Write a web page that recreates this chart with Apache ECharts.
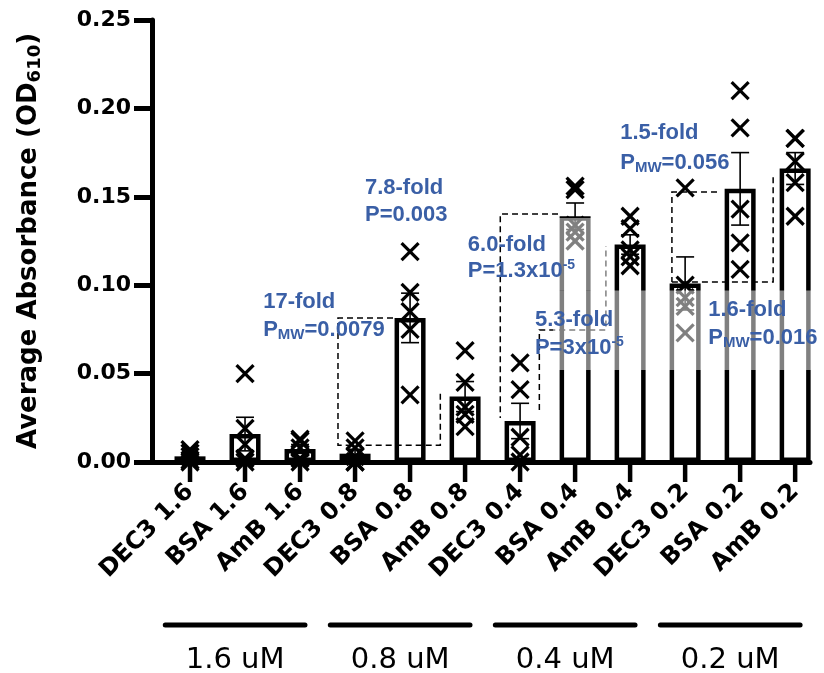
<!DOCTYPE html>
<html><head><meta charset="utf-8">
<script src="https://cdn.jsdelivr.net/npm/echarts@6/dist/echarts.min.js"></script>
<style>html,body{margin:0;padding:0;background:#fff}#c{width:824px;height:673px}</style>
</head><body><div id="c"></div>
<script>
// ---- data ----
const categories = ['DEC3 1.6','BSA 1.6','AmB 1.6','DEC3 0.8','BSA 0.8','AmB 0.8','DEC3 0.4','BSA 0.4','AmB 0.4','DEC3 0.2','BSA 0.2','AmB 0.2'];
const means = [0.0032,0.0158,0.0074,0.0047,0.0815,0.037,0.0232,0.139,0.123,0.101,0.1545,0.166];
const sems  = [0.0013,0.0095,0.0025,0.0025,0.014,0.0085,0.010,0.0075,0.0055,0.015,0.0205,0.009];
const replicates = [
  [0.007,0.005,0.003,0.001,0.0],
  [0.050,0.019,0.010,0.002,0.0],
  [0.013,0.012,0.008,0.002,0.0],
  [0.012,0.008,0.003,0.0,0.0],
  [0.119,0.096,0.085,0.075,0.038],
  [0.063,0.045,0.031,0.027,0.020],
  [0.056,0.041,0.014,0.004,0.0],
  [0.156,0.154,0.134,0.130,0.125],
  [0.139,0.132,0.120,0.116,0.111],
  [0.155,0.100,0.093,0.088,0.073],
  [0.210,0.189,0.143,0.124,0.109],
  [0.183,0.183,0.170,0.158,0.139]
];
const yTicks = [0, 0.05, 0.10, 0.15, 0.20, 0.25];
const groupLabels = ['1.6 uM','0.8 uM','0.4 uM','0.2 uM'];
const foldLabels = ['17-fold','7.8-fold','6.0-fold','5.3-fold','1.5-fold','1.6-fold'];
const pLabels = ['{a|P}{s|MW}{a|=0.0079}','{a|P=0.003}','{a|P=1.3x10}{p|-5}','{a|P=3x10}{p|-5}','{a|P}{s|MW}{a|=0.056}','{a|P}{s|MW}{a|=0.016}'];

// ---- layout (annotation anchors in axis units) ----
const annoPos = [[1.33,0.0905,0.0747],[3.18,0.155,0.140],[5.05,0.1227,0.108],[6.27,0.0803,0.0645],[7.82,0.186,0.169],[9.42,0.086,0.070]];
const brackets = [
  [[3.69,0.0815],[2.69,0.0815],[2.69,0.0095],[4.55,0.0095],[4.55,0.039]],
  [[6.69,0.1403],[5.64,0.1403],[5.64,0.0249]],
  [[6.35,0.0294],[6.35,0.0747],[7.56,0.0747],[7.56,0.1222]],
  [[9.58,0.1527],[8.76,0.1527],[8.76,0.1018]],
  [[8.76,0.1018],[10.6,0.1018],[10.6,0.1623]]
];
const veils = [[[6.6,0.097],[11.3,0.052]],[[6.6,0.138],[7.6,0.097]]];

const BLUE = '#3A5FA6';
const idx = categories.map((c,i)=>i);
const chart = echarts.init(document.getElementById('c'));

const option = {
  animation:false,
  backgroundColor:'#fff',
  grid:{left:152, right:14, top:20, bottom:211, containLabel:false},
  xAxis:{
    type:'value', min:-0.691, max:11.27,
    axisLine:{show:true, onZero:false, lineStyle:{color:'#000', width:5}},
    axisTick:{show:false},
    axisLabel:{show:true, customValues:idx, formatter:v=>categories[Math.round(v)]||'', rotate:45, margin:26,
      color:'#000', fontFamily:'DejaVu Sans', fontWeight:'bold', fontSize:24},
    splitLine:{show:false}
  },
  yAxis:{
    type:'value', min:0, max:0.25, interval:0.05,
    axisLine:{show:true, onZero:false, lineStyle:{color:'#000', width:5}},
    axisTick:{show:true, length:18, lineStyle:{color:'#000', width:5}},
    axisLabel:{color:'#000', fontFamily:'DejaVu Sans', fontWeight:'bold', fontSize:22, margin:21,
      formatter:v=>v.toFixed(2)},
    splitLine:{show:false},
    name:'{t|Average Absorbance (OD}{s|610}{t|)}',
    nameLocation:'middle', nameRotate:90, nameGap:108,
    nameTextStyle:{rich:{
      t:{fontFamily:'DejaVu Sans', fontWeight:'bold', fontSize:26, color:'#000'},
      s:{fontFamily:'DejaVu Sans', fontWeight:'bold', fontSize:18, color:'#000', padding:[11,0,0,0]}
    }}
  },
  series:[
    {type:'bar', barWidth:31, data:means.map((m,i)=>[i,m]),
     itemStyle:{color:'#fff', borderColor:'#000', borderWidth:4.5}, z:2},
    {type:'custom', z:3, data:means.map((m,i)=>[i,m,sems[i]]),
     renderItem:(params,api)=>{
       const x=api.value(0), m=api.value(1), s=api.value(2);
       const top=api.coord([x,m+s]), bot=api.coord([x,Math.max(0,m-s)]);
       const st={stroke:'#000', lineWidth:1.6};
       return {type:'group', children:[
         {type:'line', shape:{x1:top[0],y1:top[1],x2:bot[0],y2:bot[1]}, style:st},
         {type:'line', shape:{x1:top[0]-9,y1:top[1],x2:top[0]+9,y2:top[1]}, style:st},
         {type:'line', shape:{x1:bot[0]-9,y1:bot[1],x2:bot[0]+9,y2:bot[1]}, style:st}
       ]};
     }},
    {type:'custom', z:4, data:replicates.flatMap((arr,i)=>arr.map(v=>[i,v])),
     renderItem:(params,api)=>{
       const p=api.coord([api.value(0),api.value(1)]); const h=8.5;
       const st={stroke:'#000', lineWidth:3.2};
       return {type:'group', children:[
         {type:'line', shape:{x1:p[0]-h,y1:p[1]-h,x2:p[0]+h,y2:p[1]+h}, style:st},
         {type:'line', shape:{x1:p[0]-h,y1:p[1]+h,x2:p[0]+h,y2:p[1]-h}, style:st}
       ]};
     }}
  ]
};
chart.setOption(option);

const px = (x,y)=>chart.convertToPixel({xAxisIndex:0,yAxisIndex:0},[x,y]);
const g = [];
// category ticks below the x axis
idx.forEach(i=>{
  const p=px(i,0);
  g.push({type:'line', z:5, shape:{x1:p[0],y1:p[1],x2:p[0],y2:p[1]+20}, style:{stroke:'#000', lineWidth:4.5}});
});
brackets.forEach(b=>{
  g.push({type:'polyline', z:5, shape:{points:b.map(p=>px(p[0],p[1]))},
    style:{stroke:'#000', lineWidth:1.5, lineDash:[6,4], fill:null}});
});
veils.forEach(v=>{
  const a=px(v[0][0],v[0][1]), b=px(v[1][0],v[1][1]);
  g.push({type:'rect', z:6, shape:{x:a[0],y:a[1],width:b[0]-a[0],height:b[1]-a[1]},
    style:{fill:'rgba(255,255,255,0.5)'}});
});
const rich = {
  a:{fontFamily:'Liberation Sans', fontWeight:'bold', fontSize:22, fill:BLUE},
  s:{fontFamily:'Liberation Sans', fontWeight:'bold', fontSize:15, fill:BLUE, padding:[9,0,0,0]},
  p:{fontFamily:'Liberation Sans', fontWeight:'bold', fontSize:14, fill:BLUE, padding:[0,0,12,0]}
};
foldLabels.forEach((t,i)=>{
  const a=annoPos[i];
  const p1=px(a[0],a[1]), p2=px(a[0],a[2]);
  g.push({type:'text', z:10, style:{text:t, x:p1[0], y:p1[1], align:'left', verticalAlign:'middle',
    fontFamily:'Liberation Sans', fontWeight:'bold', fontSize:22, fill:BLUE}});
  g.push({type:'text', z:10, style:{text:pLabels[i], x:p2[0], y:p2[1], align:'left', verticalAlign:'middle', rich:rich}});
});
groupLabels.forEach((t,k)=>{
  const l=px(k*3-0.45,0)[0], r=px(k*3+2.09,0)[0], c=px(k*3+0.82,0)[0];
  g.push({type:'line', z:5, shape:{x1:l,y1:625,x2:r,y2:625}, style:{stroke:'#000', lineWidth:5, lineCap:'round'}});
  g.push({type:'text', z:5, style:{text:t, x:c, y:660, align:'center', verticalAlign:'middle',
    fontFamily:'DejaVu Sans', fontSize:29, fill:'#000'}});
});
chart.setOption({graphic:g});
</script>
</body></html>
